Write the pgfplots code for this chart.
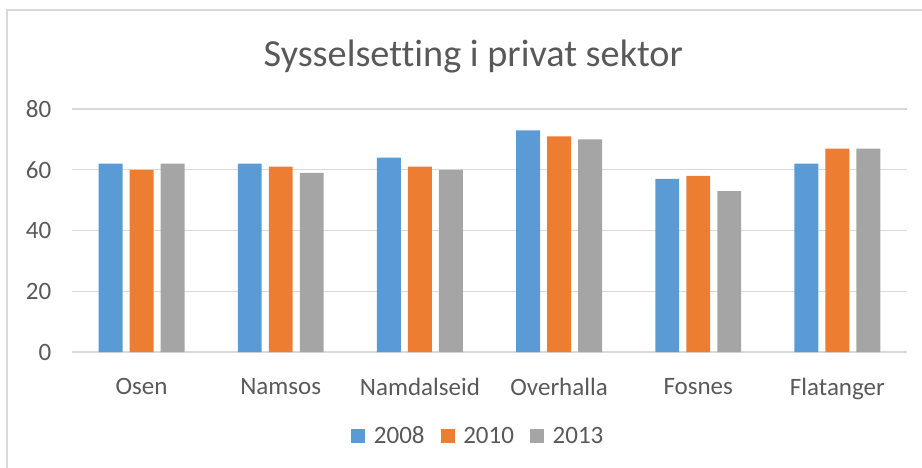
\documentclass[border=0pt]{standalone}
\usepackage{fontspec}
\setmainfont{Carlito}[Ligatures={NoCommon}]
\usepackage{pgfplots}
\pgfplotsset{compat=1.18}
\definecolor{cblue}{HTML}{5B9BD5}
\definecolor{corange}{HTML}{ED7D31}
\definecolor{cgray}{HTML}{A5A5A5}
\definecolor{ctext}{HTML}{595959}
\definecolor{cgrid}{HTML}{D9D9D9}
\begin{document}
\begin{tikzpicture}
\path[use as bounding box] (0pt,0pt) rectangle (691.5pt,-351pt);
\draw[cgrid, line width=1pt] (5.25pt,-351pt) -- (5.25pt,-7.5pt) -- (691.5pt,-7.5pt);
\node[text=ctext, font=\fontsize{28.7}{36}\selectfont] at (355pt,-42.5pt) {Sysselsetting i privat sektor};
\begin{axis}[
  at={(54pt,-264pt)}, anchor=south west,
  scale only axis, width=626.25pt, height=182.25pt,
  ybar, bar width=0.172,
  xmin=-0.5, xmax=5.5, ymin=0, ymax=80,
  xtick={0,1,2,3,4,5},
  xticklabels={Osen,Namsos,Namdalseid,Overhalla,Fosnes,Flatanger},
  ytick={0,20,40,60,80},
  axis line style={draw=none},
  tick style={draw=none},
  ymajorgrids, grid style={cgrid, line width=1pt},
  /pgf/number format/assume math mode=true,
  ticklabel style={text=ctext, font=\fontsize{18.75}{22}\selectfont},
  xticklabel style={yshift=-12pt},
  yticklabel style={xshift=-12pt},
  legend columns=3,
  legend style={draw=none, at={(0.487,-0.346)}, anchor=center,
    font=\fontsize{18.75}{22}\selectfont, text=ctext,
    /tikz/every odd column/.append style={column sep=4.5pt},
    /tikz/every even column/.append style={column sep=10pt}},
  legend image code/.code={\fill[#1] (0pt,-5.25pt) rectangle (10.5pt,5.25pt);},
]
\addplot[fill=cblue, draw=none, bar shift=-0.2227] coordinates {(0,62) (1,62) (2,64) (3,73) (4,57) (5,62)};
\addplot[fill=corange, draw=none, bar shift=0] coordinates {(0,60) (1,61) (2,61) (3,71) (4,58) (5,67)};
\addplot[fill=cgray, draw=none, bar shift=0.2227] coordinates {(0,62) (1,59) (2,60) (3,70) (4,53) (5,67)};
\legend{2008,2010,2013}
\end{axis}
\end{tikzpicture}
\end{document}
